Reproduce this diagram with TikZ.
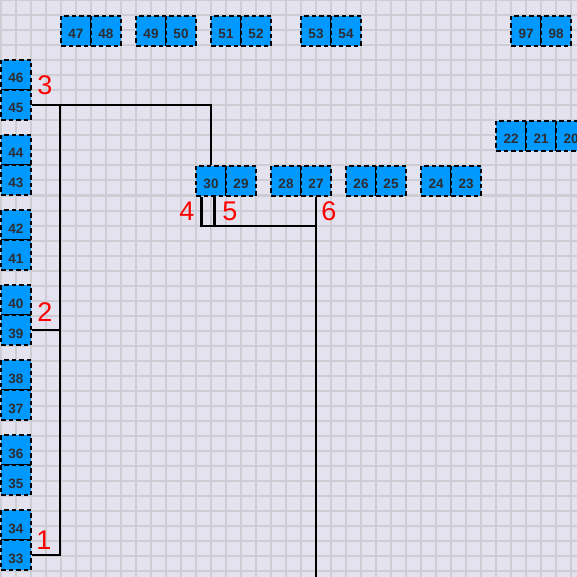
\documentclass[tikz,border=0pt]{standalone}
\usepackage{fontspec}
\setsansfont{Liberation Sans}
\definecolor{bgpaper}{RGB}{228,226,238}
\definecolor{gridgray}{RGB}{207,205,212}
\definecolor{boxblue}{RGB}{0,153,255}
\definecolor{numgray}{RGB}{45,45,50}
\tikzset{
  cell/.style={draw=black, line width=2.3pt, dash pattern=on 4.5pt off 3pt, fill=boxblue,
    minimum size=30pt, inner sep=0pt, text=numgray, text height=16pt, text depth=0pt,
    font=\fontsize{13.5}{13.5}\selectfont\sffamily\bfseries},
  lbl/.style={text=red, inner sep=0pt, text height=19.5pt, text depth=0pt,
    font=\fontsize{27}{27}\selectfont\sffamily},
  wire/.style={black, line width=2.4pt}
}
\begin{document}
\begin{tikzpicture}[x=1pt, y=-1pt]
            \useasboundingbox (0,0) rectangle (577,577);
            \fill[bgpaper] (0,0) rectangle (577,577);
            \foreach \k in {0,...,38}
                \draw[gridgray, line width=2pt] (15*\k+0.5,0) -- (15*\k+0.5,577)
                                                (0,15*\k+0.5) -- (577,15*\k+0.5);

            % top row
            \node[cell] (n47) at (76,31) {47};
            \node[cell] (n48) at (106,31) {48};
            \node[cell] (n49) at (151,31) {49};
            \node[cell] (n50) at (181,31) {50};
            \node[cell] (n51) at (226,31) {51};
            \node[cell] (n52) at (256,31) {52};
            \node[cell] (n53) at (316,31) {53};
            \node[cell] (n54) at (346,31) {54};
            \node[cell] (n97) at (526,31) {97};
            \node[cell] (n98) at (556,31) {98};

            % left column
            \node[cell] (n46) at (16,75) {46};
            \node[cell] (n45) at (16,105) {45};
            \node[cell] (n44) at (16,150) {44};
            \node[cell] (n43) at (16,180) {43};
            \node[cell] (n42) at (16,225) {42};
            \node[cell] (n41) at (16,255) {41};
            \node[cell] (n40) at (16,300) {40};
            \node[cell] (n39) at (16,330) {39};
            \node[cell] (n38) at (16,375) {38};
            \node[cell] (n37) at (16,405) {37};
            \node[cell] (n36) at (16,450) {36};
            \node[cell] (n35) at (16,480) {35};
            \node[cell] (n34) at (16,525) {34};
            \node[cell] (n33) at (16,555) {33};

            % middle rows
            \node[cell] (n30) at (211,181) {30};
            \node[cell] (n29) at (241,181) {29};
            \node[cell] (n28) at (286,181) {28};
            \node[cell] (n27) at (316,181) {27};
            \node[cell] (n26) at (361,181) {26};
            \node[cell] (n25) at (391,181) {25};
            \node[cell] (n24) at (436,181) {24};
            \node[cell] (n23) at (466,181) {23};
            \node[cell] (n22) at (511,136) {22};
            \node[cell] (n21) at (541,136) {21};
            \node[cell] (n20) at (571,136) {20};

            % wires
            \coordinate (bus) at (60,105);
            \coordinate (tie) at (201.5,226);
            \coordinate (floor) at (316,580);
            \draw[wire] (n45.east) -| (n30.north);
            \draw[wire] (n33.east) -| (bus);
            \draw[wire] (n39.east) -- (n39.east -| bus);
            \draw[wire] (n30.south -| tie) |- (n27.south |- tie);
            \draw[wire] ([xshift=3.5pt]n30.south) -- ([xshift=3.5pt]n30.south |- tie);
            \draw[wire] (n27.south) -- (floor);

            % labels
            \node[lbl] (l1) at (44,540) {1};
            \node[lbl] (l2) at (45,312) {2};
            \node[lbl] (l3) at (45,84.5) {3};
            \node[lbl] (l4) at (187,211) {4};
            \node[lbl] (l5) at (230,211) {5};
            \node[lbl] (l6) at (329,211) {6};
\end{tikzpicture}
\end{document}
